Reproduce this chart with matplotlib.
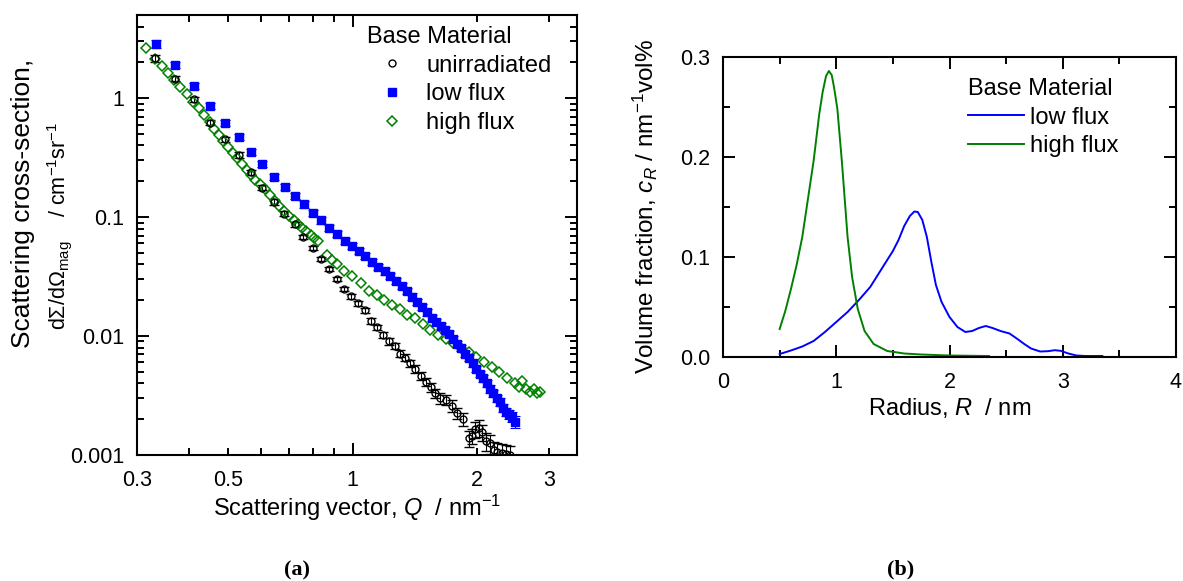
import matplotlib
matplotlib.use("Agg")
import numpy as np
import matplotlib.pyplot as plt
from matplotlib.lines import Line2D
from matplotlib.ticker import (FixedLocator, FixedFormatter, MultipleLocator,
                               NullFormatter, LogLocator, FormatStrFormatter)

plt.rcParams['font.family'] = ['Liberation Sans', 'DejaVu Sans']
plt.rcParams['mathtext.fontset'] = 'custom'
plt.rcParams['mathtext.rm'] = 'Liberation Sans'
plt.rcParams['mathtext.it'] = 'Liberation Sans:italic'
plt.rcParams['mathtext.bf'] = 'Liberation Sans:bold'
plt.rcParams['axes.linewidth'] = 1.5

# ---- panel (a): SANS curves, Q in nm^-1, cross-section in cm^-1 sr^-1
q_unirr = [0.332, 0.371, 0.413, 0.450, 0.490, 0.529, 0.566, 0.604, 0.643, 0.681,
           0.723, 0.759, 0.802, 0.839, 0.876, 0.914, 0.954, 0.991, 1.032, 1.073,
           1.108, 1.148, 1.187, 1.227, 1.266, 1.301, 1.337, 1.378, 1.417, 1.464,
           1.505, 1.545, 1.585, 1.629, 1.682, 1.737, 1.794, 1.852, 1.912, 1.950,
           1.985, 2.030, 2.062, 2.100, 2.150, 2.198, 2.245, 2.300, 2.360, 2.410]
i_unirr = [2.16, 1.46, 0.98, 0.624, 0.451, 0.333, 0.239, 0.177, 0.134, 0.107,
           0.0867, 0.0678, 0.0552, 0.0446, 0.0365, 0.0300, 0.0250, 0.0216, 0.0188, 0.0165,
           0.0134, 0.0119, 0.0102, 0.0090, 0.0082, 0.0071, 0.0066, 0.0059, 0.0053, 0.0046,
           0.0041, 0.0037, 0.0033, 0.0030, 0.0029, 0.0026, 0.00225, 0.0020, 0.00138, 0.00145,
           0.00165, 0.0017, 0.00155, 0.0013, 0.00125, 0.0011, 0.00106, 0.00103, 0.00101, 0.00100]
rel_err_unirr = [0.06, 0.05, 0.05, 0.05, 0.05, 0.05, 0.05, 0.05, 0.05, 0.05,
                 0.04, 0.04, 0.04, 0.04, 0.04, 0.04, 0.04, 0.05, 0.05, 0.05,
                 0.05, 0.05, 0.06, 0.06, 0.06, 0.07, 0.07, 0.07, 0.08, 0.08,
                 0.08, 0.09, 0.09, 0.10, 0.10, 0.11, 0.11, 0.12, 0.15, 0.15,
                 0.15, 0.16, 0.16, 0.17, 0.18, 0.18, 0.19, 0.20, 0.20, 0.20]

q_low = [0.333, 0.371, 0.413, 0.450, 0.490, 0.529, 0.566, 0.604, 0.643, 0.686,
         0.723, 0.763, 0.802, 0.840, 0.877, 0.915, 0.959, 0.996, 1.035, 1.074,
         1.114, 1.155, 1.195, 1.235, 1.275, 1.315, 1.355, 1.395, 1.435, 1.475,
         1.515, 1.555, 1.595, 1.635, 1.675, 1.715, 1.755, 1.795, 1.835, 1.875,
         1.915, 1.955, 1.995, 2.035, 2.075, 2.115, 2.155, 2.195, 2.235, 2.275,
         2.315, 2.355, 2.395, 2.435, 2.475]
i_low = [2.85, 1.91, 1.27, 0.862, 0.616, 0.475, 0.353, 0.278, 0.217, 0.179,
         0.150, 0.128, 0.109, 0.0938, 0.0813, 0.0724, 0.0628, 0.0570, 0.0517, 0.0469,
         0.0418, 0.0380, 0.0350, 0.0318, 0.0290, 0.0264, 0.0240, 0.0215, 0.0193, 0.0175,
         0.0158, 0.0143, 0.0132, 0.0122, 0.0113, 0.0104, 0.0095, 0.0086, 0.0079, 0.0071,
         0.0065, 0.0059, 0.0053, 0.0048, 0.0044, 0.0040, 0.0036, 0.0033, 0.0030, 0.0028,
         0.0025, 0.0023, 0.0022, 0.0021, 0.0019]
rel_err_low = [0.08, 0.06, 0.06, 0.06, 0.06, 0.06, 0.06, 0.06, 0.06, 0.06,
               0.06, 0.06, 0.06, 0.06, 0.06, 0.06, 0.06, 0.06, 0.06, 0.06,
               0.06, 0.06, 0.06, 0.06, 0.06, 0.06, 0.06, 0.06, 0.06, 0.06,
               0.06, 0.06, 0.06, 0.06, 0.06, 0.06, 0.06, 0.06, 0.06, 0.06,
               0.06, 0.06, 0.06, 0.06, 0.07, 0.07, 0.07, 0.07, 0.07, 0.08,
               0.08, 0.08, 0.09, 0.09, 0.12]

q_high = [0.316, 0.332, 0.344, 0.357, 0.369, 0.382, 0.396, 0.410, 0.423, 0.436,
          0.450, 0.462, 0.474, 0.486, 0.498, 0.512, 0.525, 0.539, 0.554, 0.566,
          0.581, 0.597, 0.612, 0.630, 0.647, 0.664, 0.681, 0.700, 0.720, 0.737,
          0.754, 0.771, 0.791, 0.808, 0.822,
          0.866, 0.890, 0.914, 0.954, 0.996, 1.050, 1.096, 1.144, 1.194, 1.247,
          1.301, 1.358, 1.417, 1.479, 1.544, 1.612, 1.682, 1.755, 1.832, 1.912,
          1.996, 2.083, 2.175, 2.270, 2.369, 2.472, 2.530, 2.580, 2.640, 2.693,
          2.750, 2.800, 2.842]
i_high = [2.62, 2.15, 1.85, 1.62, 1.42, 1.25, 1.08, 0.93, 0.82, 0.72,
          0.625, 0.555, 0.49, 0.435, 0.39, 0.348, 0.312, 0.279, 0.250, 0.228,
          0.207, 0.188, 0.171, 0.152, 0.137, 0.123, 0.112, 0.102, 0.094, 0.087,
          0.081, 0.076, 0.071, 0.067, 0.063,
          0.048, 0.044, 0.0403, 0.0354, 0.0319, 0.0277, 0.0240, 0.0221, 0.0201, 0.0182,
          0.0168, 0.0150, 0.0141, 0.0126, 0.0112, 0.0102, 0.0095, 0.0087, 0.0079, 0.0074,
          0.0067, 0.0061, 0.0055, 0.0050, 0.0044, 0.0040, 0.0037, 0.0042, 0.0036, 0.0034,
          0.0036, 0.0033, 0.0034]

# ---- panel (b): size distributions, R in nm, c_R in nm^-1 vol%
r_low = [0.50, 0.60, 0.70, 0.80, 0.90, 1.00, 1.10, 1.20, 1.30, 1.40,
         1.50, 1.55, 1.60, 1.65, 1.69, 1.72, 1.76, 1.80, 1.84, 1.88,
         1.93, 2.00, 2.07, 2.14, 2.20, 2.26, 2.32, 2.38, 2.45, 2.53,
         2.60, 2.66, 2.72, 2.80, 2.87, 2.93, 2.98, 3.05, 3.12, 3.20, 3.35]
c_low = [0.003, 0.0065, 0.0105, 0.016, 0.025, 0.035, 0.045, 0.057, 0.070, 0.088,
         0.106, 0.117, 0.131, 0.141, 0.1455, 0.145, 0.137, 0.120, 0.095, 0.072,
         0.055, 0.040, 0.030, 0.025, 0.026, 0.029, 0.031, 0.029, 0.026, 0.0235,
         0.018, 0.013, 0.0085, 0.0055, 0.0058, 0.0068, 0.0062, 0.0035, 0.0015, 0.001, 0.001]

r_high = [0.50, 0.55, 0.60, 0.65, 0.70, 0.75, 0.80, 0.85, 0.88, 0.91,
          0.935, 0.96, 0.98, 1.01, 1.05, 1.10, 1.14, 1.19, 1.25, 1.33,
          1.45, 1.60, 1.75, 2.00, 2.35]
c_high = [0.028, 0.046, 0.068, 0.092, 0.120, 0.158, 0.196, 0.243, 0.265, 0.281,
          0.286, 0.282, 0.270, 0.248, 0.195, 0.120, 0.080, 0.048, 0.026, 0.013,
          0.006, 0.0035, 0.0025, 0.0015, 0.001]

BLUE = '#0000ff'
GREEN = '#008000'
W, H = 1183, 581

def px(x, y):
    # pixel position (from top-left) -> figure fraction
    return x / W, 1 - y / H

fig = plt.figure(figsize=(11.83, 5.81), dpi=100)
ax1 = fig.add_axes([137 / W, 1 - 455 / H, 440 / W, 440 / H])
ax2 = fig.add_axes([723 / W, 1 - 357 / H, 453 / W, 300 / H])

# panel (a)
i_u = np.array(i_unirr)
i_l = np.array(i_low)
ax1.errorbar(q_unirr, i_u, yerr=i_u * np.array(rel_err_unirr), fmt='o', ms=5,
             mfc='none', mec='k', mew=1.0, ecolor='k', elinewidth=0.8, capsize=3.5, capthick=0.8)
ax1.errorbar(q_low, i_l, yerr=i_l * np.array(rel_err_low), fmt='s', ms=5.2,
             color=BLUE, mec=BLUE, ecolor=BLUE, elinewidth=0.8, capsize=3.5, capthick=0.8)
ax1.plot(q_high, i_high, 'D', ms=5.2, mfc='none', mec=GREEN, mew=1.1)

ax1.set_xscale('log')
ax1.set_yscale('log')
ax1.set_xlim(0.3, 3.5)
ax1.set_ylim(0.001, 5)
ax1.xaxis.set_major_locator(FixedLocator([1]))
ax1.xaxis.set_minor_locator(FixedLocator([0.3, 0.4, 0.5, 0.6, 0.7, 0.8, 0.9, 2, 3]))
ax1.xaxis.set_major_formatter(FixedFormatter(['1']))
ax1.xaxis.set_minor_formatter(FixedFormatter(['0.3', '', '0.5', '', '', '', '', '2', '3']))
ax1.yaxis.set_major_locator(FixedLocator([0.001, 0.01, 0.1, 1]))
ax1.yaxis.set_major_formatter(FixedFormatter(['0.001', '0.01', '0.1', '1']))
ax1.yaxis.set_minor_locator(LogLocator(base=10, subs=np.arange(2, 10)))
ax1.yaxis.set_minor_formatter(NullFormatter())

handles = [Line2D([], [], ls='none', marker='o', ms=5, mfc='none', mec='k', mew=1.0),
           Line2D([], [], ls='none', marker='s', ms=5.2, color=BLUE),
           Line2D([], [], ls='none', marker='D', ms=5.2, mfc='none', mec=GREEN, mew=1.1)]
ax1.legend(handles, ['unirradiated', 'low flux', 'high flux'], title='Base Material',
           loc='upper left', bbox_to_anchor=((367 - 137) / 440, 1 - (26 - 15) / 440),
           frameon=False, alignment='left', fontsize=17, title_fontsize=17,
           handlelength=2.1, handletextpad=0.42, labelspacing=0.28,
           borderpad=0, borderaxespad=0)

# panel (b)
ax2.plot(r_low, c_low, color=BLUE, lw=1.4, label='low flux')
ax2.plot(r_high, c_high, color=GREEN, lw=1.4, label='high flux')
ax2.set_xlim(0, 4)
ax2.set_ylim(0, 0.3)
ax2.xaxis.set_major_locator(MultipleLocator(1))
ax2.xaxis.set_minor_locator(MultipleLocator(0.5))
ax2.yaxis.set_major_locator(MultipleLocator(0.1))
ax2.yaxis.set_minor_locator(MultipleLocator(0.05))
ax2.yaxis.set_major_formatter(FormatStrFormatter('%.1f'))
ax2.legend(title='Base Material', loc='upper left',
           bbox_to_anchor=((968 - 723) / 453, 1 - (78 - 57) / 300),
           frameon=False, alignment='left', fontsize=17, title_fontsize=17,
           handlelength=2.37, handletextpad=0.25, labelspacing=0.28,
           borderpad=0, borderaxespad=0)

for ax in (ax1, ax2):
    ax.tick_params(which='both', direction='in', top=True, right=True, labelsize=15.5,
                   width=1.4)
    ax.tick_params(which='major', length=8.5)
    ax.tick_params(which='minor', length=4.8)
    ax.tick_params(axis='x', which='both', pad=11)
    ax.tick_params(axis='y', which='both', pad=9)

# axis titles
fig.text(*px(357, 508), 'Scattering vector, $Q$  / nm$^{-1}$', fontsize=17,
         ha='center', va='center')
fig.text(*px(23, 203), 'Scattering cross-section,', fontsize=19, rotation=90,
         ha='center', va='center')
fig.text(*px(60, 226),
         'd$\\mathit{\\Sigma}$/d$\\mathit{\\Omega}_{\\rm mag}$    / cm$^{-1}$sr$^{-1}$',
         fontsize=15.5, rotation=90, ha='center', va='center')
fig.text(*px(950, 408), 'Radius, $R$  / nm', fontsize=17, ha='center', va='center')
fig.text(*px(645, 207), 'Volume fraction, $c_R$ / nm$^{-1}$vol%', fontsize=17.5,
         rotation=90, ha='center', va='center')

fig.text(*px(297, 570), '(a)', ha='center', va='center',
         fontfamily='Liberation Serif', fontsize=16, fontweight='bold')
fig.text(*px(901, 569), '(b)', ha='center', va='center',
         fontfamily='Liberation Serif', fontsize=16, fontweight='bold')

fig.savefig('out.png', dpi=100)
